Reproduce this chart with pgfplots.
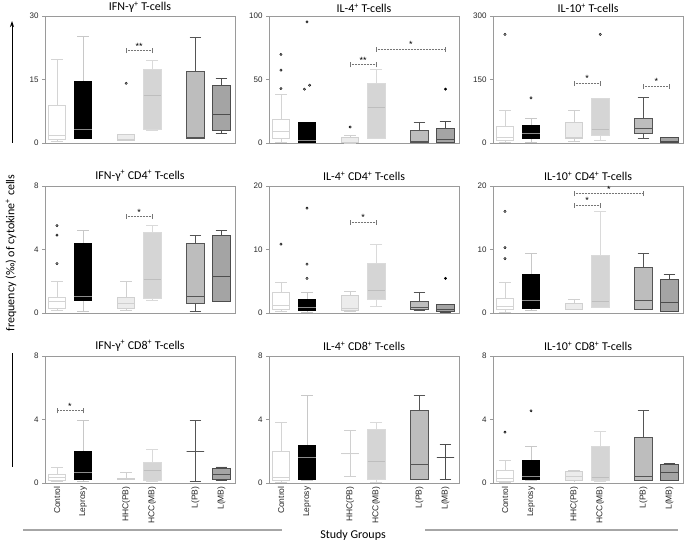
\documentclass[border=0pt]{standalone}
\usepackage{fontspec}
\setmainfont{Liberation Sans}
\newfontfamily\calfont{Carlito}
\usepackage{pgfplots}
\pgfplotsset{compat=1.18}
\usepgfplotslibrary{statistics}
\usetikzlibrary{arrows.meta}

\definecolor{cW}{HTML}{D4D4D4}
\definecolor{cLw}{HTML}{C8C8C8}
\definecolor{cLm}{HTML}{8C8C8C}
\definecolor{cHf}{HTML}{ECECEC}
\definecolor{cHd}{HTML}{D0D0D0}
\definecolor{cCf}{HTML}{D5D5D5}
\definecolor{cCd}{HTML}{DADADA}
\definecolor{cCm}{HTML}{BEBEBE}
\definecolor{cPf}{HTML}{BDBDBD}
\definecolor{cPd}{HTML}{555555}
\definecolor{cMf}{HTML}{A4A4A4}
\definecolor{cMd}{HTML}{4D4D4D}
\definecolor{cO}{HTML}{A8A8A8}
\definecolor{cF}{HTML}{9A9A9A}
\definecolor{cBr}{HTML}{767676}

\pgfplotsset{
  panel/.style={scale only axis, width=190pt, height=127pt,
    xmin=0.54, xmax=7.84, ymin=0,
    xtick={1,2,3.66,4.66,6.32,7.32}, xticklabels={},
    major x tick style={draw=none},
    ytick pos=left, ytick align=outside, major tick length=3pt,
    axis line style={draw=cF, line width=0.6pt},
    tick style={draw=cF, line width=0.6pt},
    tick label style={font=\fontsize{8}{9}\selectfont, text=black!85},
    /pgf/number format/assume math mode=true,
    title style={font=\calfont\fontsize{12}{14}\selectfont, yshift=-4.5pt},
    clip=false,
    boxplot/draw direction=y,
    boxplot/box extend=0.67, boxplot/whisker extend=0.45},
  xlab/.style={xticklabels={Control,Leprosy,HHC(PB),HCC(MB),L(PB),L(MB)},
    xticklabel style={rotate=90, anchor=east, font=\fontsize{8.5}{10}\selectfont, text=black!85}},
  gA/.style={draw=cW, fill=white, line width=0.9pt,
    boxplot/every median/.style={draw=cW, line width=0.9pt}},
  gB/.style={draw=black, fill=black, line width=0.9pt,
    boxplot/every whisker/.style={draw=cLw},
    boxplot/every median/.style={draw=cLm, line width=0.9pt}},
  gC/.style={draw=cHd, fill=cHf, line width=0.9pt,
    boxplot/every median/.style={draw=cHd, line width=0.9pt}},
  gD/.style={draw=cCd, fill=cCf, line width=0.9pt,
    boxplot/every median/.style={draw=cCm, line width=0.9pt}},
  gE/.style={draw=cPd, fill=cPf, line width=0.9pt,
    boxplot/every median/.style={draw=cPd, line width=0.9pt}},
  gF/.style={draw=cMd, fill=cMf, line width=0.9pt,
    boxplot/every median/.style={draw=cMd, line width=0.9pt}},
  out/.style={only marks, mark=*, mark size=1.2pt, draw=none, fill=cO},
  outk/.style={only marks, mark=*, mark size=1.2pt, draw=none, fill=black},
}

% style, position, lower whisker, lower quartile, median, upper quartile, upper whisker
\newcommand{\bp}[7]{\addplot[#1, boxplot prepared={draw position=#2, lower whisker=#3,
  lower quartile=#4, median=#5, upper quartile=#6, upper whisker=#7}] coordinates {};}
\newcommand{\six}[6]{%
  \bp{gA}{1}#1\bp{gB}{2}#2\bp{gC}{3.66}#3\bp{gD}{4.66}#4\bp{gE}{6.32}#5\bp{gF}{7.32}#6}
\newcommand{\brk}[4]{%
  \draw[cBr, line width=0.8pt, dash pattern=on 1pt off 0.5pt] (axis cs:#1,#3) -- (axis cs:#2,#3)
    node[midway, above, inner sep=1.2pt, font=\fontsize{9}{9}\selectfont, text=black]{#4};
  \draw[cBr, line width=0.8pt] (axis cs:#1,#3) ++(0pt,-2.5pt) -- ++(0pt,5pt);
  \draw[cBr, line width=0.8pt] (axis cs:#2,#3) ++(0pt,-2.5pt) -- ++(0pt,5pt);}

\begin{document}
\begin{tikzpicture}
\useasboundingbox (0pt,0pt) rectangle (685pt,545pt);

% ---------- Row 1 ----------
\begin{axis}[panel, at={(45pt,402pt)}, anchor=south west, ymax=30, ytick={0,15,30},
  title style={yshift=-1.5pt},
  title={IFN-γ\textsuperscript{+} T-cells}]
\six{{0.3}{0.8}{1.8}{8.8}{19.7}}{{1.0}{1.1}{3.3}{14.6}{25.1}}{{0.5}{0.6}{0.8}{1.9}{1.9}}%
    {{3.0}{3.3}{11.2}{17.3}{19.6}}{{1.0}{1.1}{1.2}{17.0}{25.0}}{{2.3}{2.9}{6.7}{13.6}{15.3}}
\addplot[out] coordinates {(3.66,14.1)};
\brk{3.66}{4.66}{21.8}{**}
\end{axis}

\begin{axis}[panel, at={(269pt,402pt)}, anchor=south west, ymax=100, ytick={0,50,100},
  title style={yshift=-1.5pt},
  title={IL-4\textsuperscript{+} T-cells}]
\six{{0.5}{3.2}{9.2}{18.7}{38.2}}{{0.5}{0.8}{2.1}{15.8}{16.3}}{{0}{0.3}{0.8}{4.7}{5.8}}%
    {{3.7}{3.9}{27.9}{46.6}{57.9}}{{0.3}{0.5}{1.3}{10.0}{15.8}}{{0.3}{0.8}{2.6}{11.1}{17.1}}
\addplot[out] coordinates {(1,69.7) (1,57.4) (1,42.9) (2,95.3) (1.9,42.4) (2.1,45.5) (3.66,12.6)};
\addplot[outk] coordinates {(7.32,42.4)};
\brk{3.66}{4.66}{61.6}{**}
\brk{4.66}{7.32}{73.7}{*}
\end{axis}

\begin{axis}[panel, at={(493pt,402pt)}, anchor=south west, ymax=300, ytick={0,150,300},
  title style={yshift=-1.5pt},
  title={IL-10\textsuperscript{+} T-cells}]
\six{{0.8}{6.3}{13.4}{37.9}{77.4}}{{0.8}{11.1}{22.9}{41.0}{57.6}}{{3.2}{11.1}{14.2}{49.7}{77.4}}%
    {{5.5}{18.9}{31.6}{104.2}{104.2}}{{10.3}{22.1}{34.7}{57.6}{106.6}}{{0.8}{1.6}{4.7}{12.6}{13.4}}
\addplot[out] coordinates {(1,256.6) (2,106.6) (4.66,256.6)};
\brk{3.66}{4.66}{140.5}{*}
\brk{6.32}{7.32}{134}{*}
\end{axis}

% ---------- Row 2 ----------
\begin{axis}[panel, at={(45pt,232pt)}, anchor=south west, ymax=8, ytick={0,4,8},
  title={IFN-γ\textsuperscript{+} CD4\textsuperscript{+} T-cells}]
\six{{0.19}{0.30}{0.70}{0.99}{1.99}}{{0.1}{0.76}{1.04}{4.36}{5.19}}{{0.19}{0.3}{0.6}{1.0}{2.0}}%
    {{0.8}{0.91}{2.14}{5.06}{5.5}}{{0.1}{0.61}{1.04}{4.36}{4.91}}{{0.7}{0.7}{2.33}{4.87}{5.19}}
\addplot[out] coordinates {(1,5.5) (1,4.91) (1,3.11)};
\brk{3.66}{4.66}{6.07}{*}
\end{axis}

\begin{axis}[panel, at={(269pt,232pt)}, anchor=south west, ymax=20, ytick={0,10,20},
  title={IL-4\textsuperscript{+} CD4\textsuperscript{+} T-cells}]
\six{{0.26}{0.53}{1.16}{3.28}{4.76}}{{0.1}{0.42}{0.9}{2.12}{3.28}}{{0.32}{0.42}{0.74}{2.8}{3.44}}%
    {{1.06}{2.12}{3.6}{7.78}{10.85}}{{0.37}{0.58}{0.9}{1.75}{3.28}}{{0.1}{0.32}{0.63}{1.32}{1.32}}
\addplot[out] coordinates {(1,10.85) (2,16.5) (2,7.7) (2,5.45)};
\addplot[outk] coordinates {(7.32,5.45)};
\brk{3.66}{4.66}{14.3}{*}
\end{axis}

\begin{axis}[panel, at={(493pt,232pt)}, anchor=south west, ymax=20, ytick={0,10,20},
  title={IL-10\textsuperscript{+} CD4\textsuperscript{+} T-cells}]
\six{{0.16}{0.58}{1.06}{2.33}{4.87}}{{0.37}{0.69}{2.0}{6.14}{9.42}}{{0.48}{0.48}{0.63}{1.53}{2.12}}%
    {{0.85}{0.85}{1.75}{9.0}{16.0}}{{0.58}{0.58}{2.0}{7.14}{9.42}}{{0.21}{0.32}{1.64}{5.29}{6.14}}
\addplot[out] coordinates {(1,16.0) (1,10.3) (1,8.57)};
\brk{3.66}{4.66}{16.98}{*}
\brk{3.66}{6.32}{18.8}{*}
\end{axis}

% ---------- Row 3 ----------
\begin{axis}[panel, xlab, at={(45pt,62pt)}, anchor=south west, ymax=8, ytick={0,4,8},
  title={IFN-γ\textsuperscript{+} CD8\textsuperscript{+} T-cells}]
\six{{0.08}{0.17}{0.34}{0.55}{1.01}}{{0.08}{0.21}{0.69}{2.0}{3.92}}{{0.21}{0.25}{0.27}{0.29}{0.69}}%
    {{0.08}{0.19}{0.78}{1.28}{2.1}}{{0.08}{2.0}{2.0}{2.0}{3.92}}{{0.17}{0.23}{0.53}{0.9}{1.01}}
\brk{1}{2}{4.55}{*}
\end{axis}

\begin{axis}[panel, xlab, at={(269pt,62pt)}, anchor=south west, ymax=8, ytick={0,4,8},
  title={IL-4\textsuperscript{+} CD8\textsuperscript{+} T-cells}]
\six{{0.06}{0.13}{0.34}{2.0}{3.79}}{{0.17}{0.21}{1.62}{2.38}{5.49}}{{0.42}{1.85}{1.85}{1.85}{3.3}}%
    {{0.06}{0.21}{1.35}{3.37}{3.79}}{{0.21}{0.25}{1.16}{4.59}{5.49}}{{0.21}{1.62}{1.62}{1.62}{2.42}}
\end{axis}

\begin{axis}[panel, xlab, at={(493pt,62pt)}, anchor=south west, ymax=8, ytick={0,4,8},
  title={IL-10\textsuperscript{+} CD8\textsuperscript{+} T-cells}]
\six{{0.04}{0.08}{0.27}{0.8}{1.39}}{{0.13}{0.21}{0.42}{1.45}{2.29}}{{0.13}{0.15}{0.4}{0.72}{0.76}}%
    {{0.08}{0.13}{0.36}{2.29}{3.22}}{{0.13}{0.17}{0.4}{2.86}{4.55}}{{0.13}{0.17}{0.67}{1.16}{1.2}}
\addplot[out] coordinates {(1,3.2) (2,4.55)};
\end{axis}

% ---------- Decorations ----------
\draw[-{Stealth[length=6pt,width=4pt]}, line width=1pt] (12pt,402pt) -- (12pt,524pt);
\draw[line width=1pt] (12pt,78pt) -- (12pt,192pt);
\node[rotate=90, font=\calfont\fontsize{12}{14}\selectfont] at (11pt,292pt)
  {frequency (‰) of cytokine\textsuperscript{+} cells};
\draw[black!35, line width=1.2pt] (23pt,15pt) -- (282pt,15pt);
\draw[black!35, line width=1.2pt] (425pt,15pt) -- (678pt,15pt);
\node[font=\calfont\fontsize{12}{14}\selectfont] at (353pt,10pt) {Study Groups};
\end{tikzpicture}
\end{document}
